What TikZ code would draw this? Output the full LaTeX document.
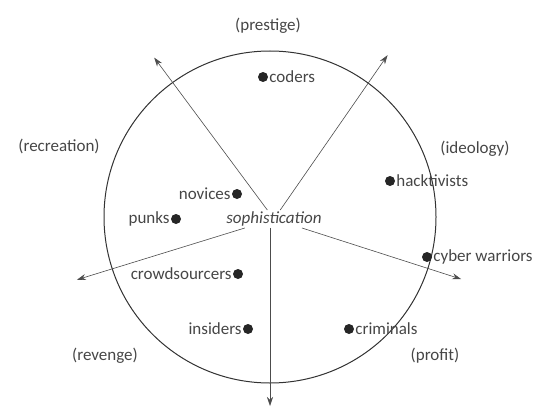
\documentclass[tikz,border=0pt]{standalone}
\usepackage{fontspec}
\setmainfont{Carlito}
\usetikzlibrary{arrows.meta}
\definecolor{txtgray}{RGB}{70,70,70}

\begin{document}
\begin{tikzpicture}[x=1pt, y=1pt, font=\fontsize{17}{19}\selectfont, text=txtgray,
	dot/.style={circle, fill=black!85, inner sep=0pt, minimum size=10pt},
	axis/.style={draw=black!70, line width=0.6pt, -{Stealth[length=9pt, width=6pt]}},
	every label/.style={inner sep=1pt, text=txtgray}]
				\useasboundingbox (0,0) rectangle (535,408);

				% Nodes
				\node[draw=black!80, line width=1pt, circle, minimum size=332pt, inner sep=0pt] (rim) at (270,191) {};
				\node[inner sep=1.5pt] (soph) at (274,189) {\itshape sophistication};

				\node[dot, label=right:coders] (coders) at (263,331) {};
				\node[dot, label=right:hacktivists] (hacktivists) at (390,227) {};
				\node[dot, label=right:cyber warriors] (cyber) at (427,151) {};
				\node[dot, label=left:novices] (novices) at (237,214) {};
				\node[dot, label=left:punks] (punks) at (176,189) {};
				\node[dot, label=left:crowdsourcers] (crowd) at (238,134) {};
				\node[dot, label=left:insiders] (insiders) at (248,79) {};
				\node[dot, label=right:criminals] (criminals) at (349,79) {};

				\node (prestige) at (268,382) {(prestige)};
				\node (recreation) at (59,262) {(recreation)};
				\node (ideology) at (475,259) {(ideology)};
				\node (revenge) at (105,52) {(revenge)};
				\node (profit) at (435,52) {(profit)};

				\coordinate (nw) at ([shift={(126:197)}]rim.center);
				\coordinate (ne) at ([shift={(54:200)}]rim.center);
				\coordinate (w) at ([shift={(198:203)}]rim.center);
				\coordinate (e) at ([shift={(-18:201)}]rim.center);
				\coordinate (s) at (270,2);

				% Edges
				\draw[axis] (soph) -- (nw);
				\draw[axis] (soph) -- (ne);
				\draw[axis] (soph) -- (w);
				\draw[axis] (soph) -- (e);
				\draw[axis] (soph.south -| s) -- (s);
			\end{tikzpicture}
\end{document}
